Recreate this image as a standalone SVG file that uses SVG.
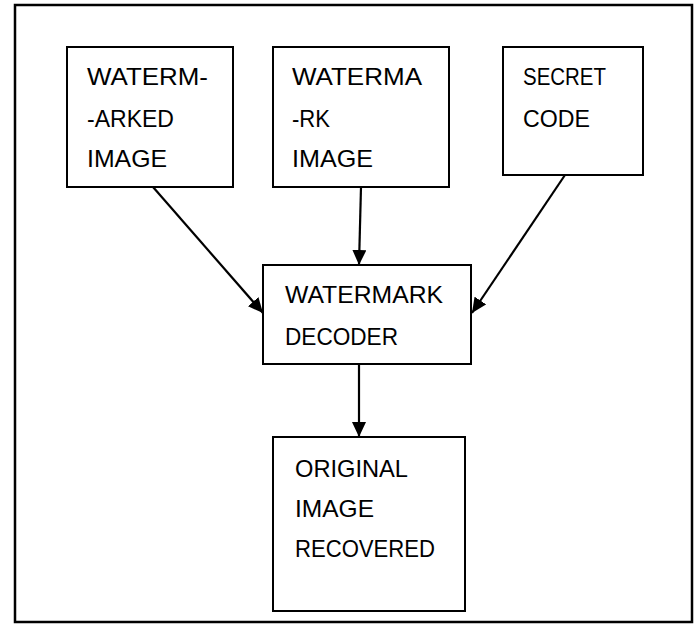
<svg xmlns="http://www.w3.org/2000/svg" width="699" height="624" viewBox="0 0 699 624">
<style>
.box{fill:#fff;stroke:#000;stroke-width:2}
.lbl{font-family:"Liberation Sans",Arial,sans-serif;font-size:24px;fill:#000}
.edge{stroke:#000;stroke-width:2.2;fill:none;marker-end:url(#ah)}
</style>
<defs>
<marker id="ah" markerUnits="userSpaceOnUse" markerWidth="16" markerHeight="14" refX="15" refY="7" orient="auto">
<path d="M0,0 L15,7 L0,14 Z" fill="#000"/>
</marker>
</defs>
<rect x="15" y="5" width="677" height="617" fill="#fff" stroke="#000" stroke-width="2.5"/>
<g id="n1"><rect class="box" x="67" y="47" width="166" height="140"/>
<text class="lbl" x="87" y="85" textLength="121" lengthAdjust="spacingAndGlyphs">WATERM-</text><text class="lbl" x="87" y="127" textLength="87" lengthAdjust="spacingAndGlyphs">-ARKED</text><text class="lbl" x="87" y="167" textLength="80" lengthAdjust="spacingAndGlyphs">IMAGE</text></g>
<g id="n2"><rect class="box" x="273" y="47" width="176" height="140"/>
<text class="lbl" x="292" y="85" textLength="130" lengthAdjust="spacingAndGlyphs">WATERMA</text><text class="lbl" x="292" y="127" textLength="38" lengthAdjust="spacingAndGlyphs">-RK</text><text class="lbl" x="292" y="167" textLength="81" lengthAdjust="spacingAndGlyphs">IMAGE</text></g>
<g id="n3"><rect class="box" x="503" y="47" width="140" height="128"/>
<text class="lbl" x="523" y="85" textLength="83" lengthAdjust="spacingAndGlyphs">SECRET</text><text class="lbl" x="523" y="127" textLength="67" lengthAdjust="spacingAndGlyphs">CODE</text></g>
<g id="n4"><rect class="box" x="263" y="265" width="208" height="99"/>
<text class="lbl" x="285" y="303" textLength="158" lengthAdjust="spacingAndGlyphs">WATERMARK</text><text class="lbl" x="285" y="345" textLength="113" lengthAdjust="spacingAndGlyphs">DECODER</text></g>
<g id="n5"><rect class="box" x="273" y="437" width="192" height="174"/>
<text class="lbl" x="295" y="477" textLength="113" lengthAdjust="spacingAndGlyphs">ORIGINAL</text><text class="lbl" x="295" y="517" textLength="79" lengthAdjust="spacingAndGlyphs">IMAGE</text><text class="lbl" x="295" y="557" textLength="140" lengthAdjust="spacingAndGlyphs">RECOVERED</text></g>
<g id="edges">
<line class="edge" x1="153" y1="187" x2="263" y2="313"/>
<line class="edge" x1="361" y1="187" x2="359" y2="265"/>
<line class="edge" x1="565" y1="175" x2="472" y2="313"/>
<line class="edge" x1="359" y1="364" x2="359" y2="437"/>
</g>
</svg>
